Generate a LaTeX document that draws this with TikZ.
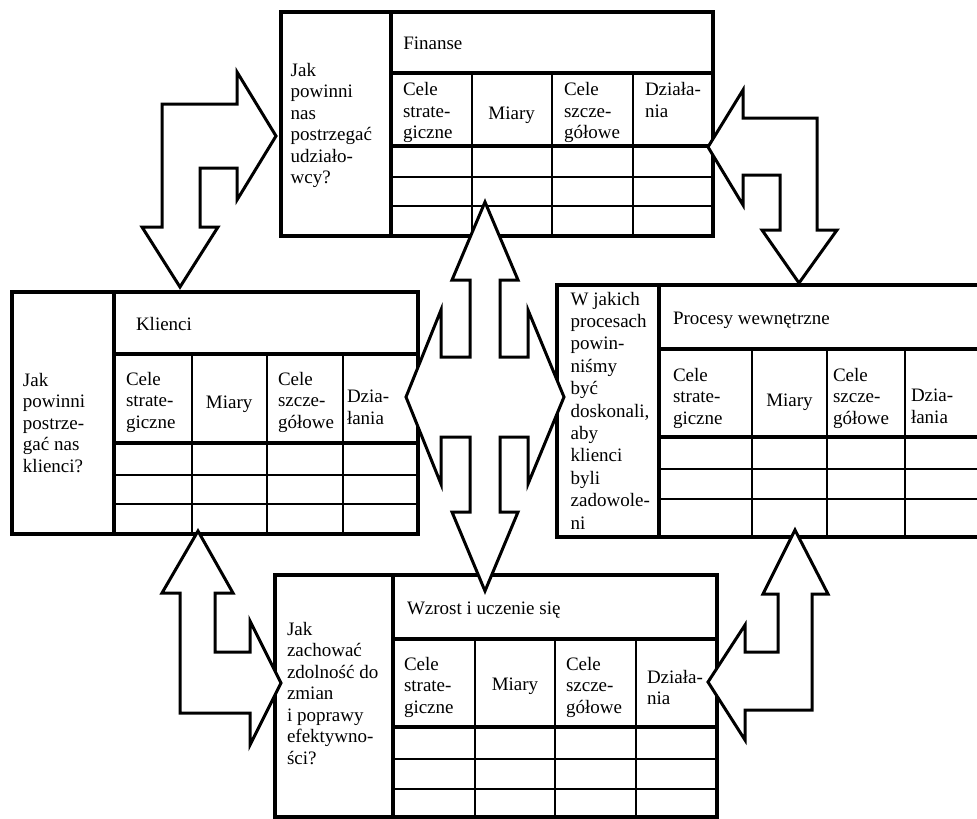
\documentclass[tikz,border=0pt]{standalone}
\usepackage{fontspec}
\setmainfont{Liberation Serif}
\begin{document}
\begin{tikzpicture}[x=1pt,y=-1pt,
  outerline/.style={line width=4pt},
  thinline/.style={line width=2pt},
  txt/.style={font=\fontsize{19}{21.5}\selectfont, inner sep=0pt, outer sep=0pt, align=left, anchor=north west},
  ctxt/.style={font=\fontsize{19}{21.5}\selectfont, inner sep=0pt, outer sep=0pt, anchor=base},
  blockarrow/.style={draw, fill=white, line width=3pt, line join=miter, miter limit=10}]
\clip (0,0) rectangle (977,819);
\fill[white] (0,0) rectangle (977,819);

% ---------- Finanse ----------
\draw[outerline] (280.7,11.7) rectangle (713.3,235.7);
\draw[outerline] (390.7,11.7) -- (390.7,235.7);
\draw[outerline] (390.7,73.3) -- (713.3,73.3);
\draw[outerline] (390.7,145.7) -- (713.3,145.7);
\draw[thinline] (471.7,73.3) -- (471.7,235.7) (551.7,73.3) -- (551.7,235.7) (633.3,73.3) -- (633.3,235.7);
\draw[thinline] (390.7,176.7) -- (713.3,176.7) (390.7,205.7) -- (713.3,205.7);
\node[txt] (finq) at (290.7,63) {Jak\\powinni\\nas\\postrzegać\\udziało-\\wcy?};
\node[txt] (fint) at (403.3,37) {Finanse};
\node[txt] (finc1) at (403,82.7) {Cele\\strate-\\giczne};
\node[ctxt] (finc2) at (511.7,119) {Miary};
\node[txt] (finc3) at (564,82.7) {Cele\\szcze-\\gółowe};
\node[txt] (finc4) at (645,82.7) {Działa-\\nia};

% ---------- Klienci ----------
\draw[outerline] (11.7,291.7) rectangle (418.3,533.7);
\draw[outerline] (114.3,291.7) -- (114.3,533.7);
\draw[outerline] (114.3,354) -- (418.3,354);
\draw[outerline] (114.3,443.3) -- (418.3,443.3);
\draw[thinline] (191.7,354) -- (191.7,533.7) (266.7,354) -- (266.7,533.7) (342.7,354) -- (342.7,533.7);
\draw[thinline] (114.3,475) -- (418.3,475) (114.3,504) -- (418.3,504);
\node[txt] (kliq) at (23,373) {Jak\\powinni\\postrze-\\gać nas\\klienci?};
\node[txt] (klit) at (136,317) {Klienci};
\node[txt] (klic1) at (126,372) {Cele\\strate-\\giczne};
\node[ctxt] (klic2) at (229.2,408) {Miary};
\node[txt] (klic3) at (278,372) {Cele\\szcze-\\gółowe};
\node[txt] (klic4) at (347,390) {Dzia-\\łania};

% ---------- Procesy wewnetrzne ----------
\draw[outerline] (557.3,285) rectangle (981,536.7);
\draw[outerline] (659,285) -- (659,536.7);
\draw[outerline] (659,349) -- (981,349);
\draw[outerline] (659,437.3) -- (981,437.3);
\draw[thinline] (751.7,349) -- (751.7,536.7) (827.3,349) -- (827.3,536.7) (905,349) -- (905,536.7);
\draw[thinline] (659,469) -- (981,469) (659,499) -- (981,499);
\node[txt, font=\fontsize{19}{22.4}\selectfont] (proq) at (570.7,292) {W jakich\\procesach\\powin-\\niśmy\\być\\doskonali,\\aby\\klienci\\byli\\zadowole-\\ni};
\node[txt] (prot) at (673,312) {Procesy wewnętrzne};
\node[txt] (proc1) at (673,368) {Cele\\strate-\\giczne};
\node[ctxt] (proc2) at (789.5,406) {Miary};
\node[txt] (proc3) at (833,368) {Cele\\szcze-\\gółowe};
\node[txt] (proc4) at (911,389) {Dzia-\\łania};

% ---------- Wzrost i uczenie sie ----------
\draw[outerline] (275,575) rectangle (716.7,816.7);
\draw[outerline] (393.3,575) -- (393.3,816.7);
\draw[outerline] (393.3,639) -- (716.7,639);
\draw[outerline] (393.3,727.3) -- (716.7,727.3);
\draw[thinline] (475,639) -- (475,816.7) (555,639) -- (555,816.7) (635.7,639) -- (635.7,816.7);
\draw[thinline] (393.3,759) -- (716.7,759) (393.3,789) -- (716.7,789);
\node[txt] (wzrq) at (287,622) {Jak\\zachować\\zdolność do\\zmian\\i poprawy\\efektywno-\\ści?};
\node[txt] (wzrt) at (407,602) {Wzrost i uczenie się};
\node[txt] (wzrc1) at (404,657) {Cele\\strate-\\giczne};
\node[ctxt] (wzrc2) at (515,690) {Miary};
\node[txt] (wzrc3) at (566,657) {Cele\\szcze-\\gółowe};
\node[txt] (wzrc4) at (647,670) {Działa-\\nia};

% ---------- block arrows ----------
% top-left: Finanse <-> Klienci
\draw[blockarrow] (276,136) -- (237,72) -- (237,104) -- (162,104) -- (162,227) -- (142,227)
  -- (180,287) -- (218,227) -- (200,227) -- (200,168) -- (237,168) -- (237,200) -- cycle;
% top-right: Finanse <-> Procesy
\draw[blockarrow] (708,147) -- (743,90) -- (743,118) -- (817,118) -- (817,230) -- (837,230)
  -- (799,283) -- (762,230) -- (780,230) -- (780,175) -- (743,175) -- (743,205) -- cycle;
% centre: four-way
\draw[blockarrow] (485,202) -- (518,280) -- (500,280) -- (500,357) -- (528,357) -- (528,310)
  -- (564,397) -- (528,484) -- (528,437) -- (500,437) -- (500,512) -- (518,512)
  -- (485,591) -- (452,512) -- (470,512) -- (470,437) -- (441,437) -- (441,484)
  -- (406,397) -- (441,310) -- (441,357) -- (470,357) -- (470,280) -- (452,280) -- cycle;
% bottom-left: Klienci <-> Wzrost
\draw[blockarrow] (198,531) -- (233,593) -- (215,593) -- (215,652) -- (250,652) -- (250,621)
  -- (281,683) -- (250,745) -- (250,713) -- (180,713) -- (180,593) -- (162,593) -- cycle;
% bottom-right: Procesy <-> Wzrost
\draw[blockarrow] (795,530) -- (828,594) -- (812,594) -- (812,710) -- (745,710) -- (745,740)
  -- (708,682) -- (745,625) -- (745,652) -- (778,652) -- (778,594) -- (763,594) -- cycle;
\end{tikzpicture}
\end{document}
